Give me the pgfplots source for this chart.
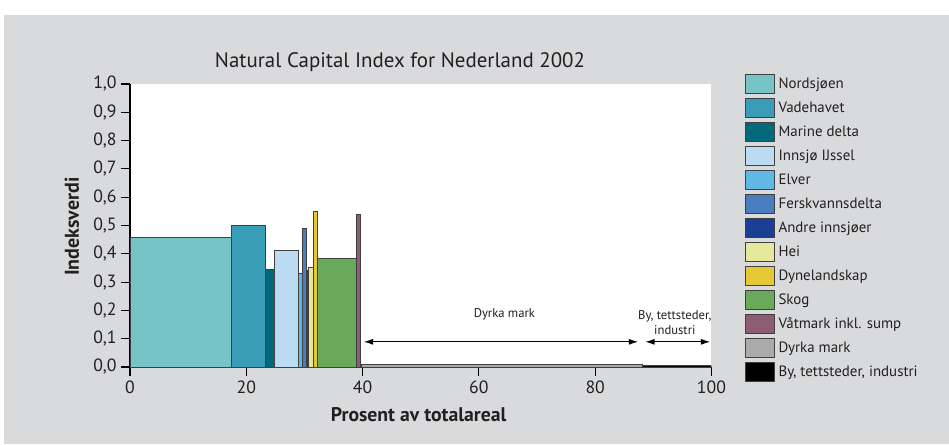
\documentclass[border=0pt]{standalone}
\usepackage{fontspec}
\setmainfont{PT Sans}
\usepackage{pgfplots}
\pgfplotsset{compat=1.18}
\usetikzlibrary{arrows.meta}

\definecolor{bggray}{RGB}{217,218,220}
\definecolor{txt}{RGB}{35,31,32}
\definecolor{cNord}{RGB}{118,196,197}
\definecolor{cVade}{RGB}{58,157,184}
\definecolor{cMarine}{RGB}{0,105,122}
\definecolor{cIjssel}{RGB}{186,219,242}
\definecolor{cElver}{RGB}{98,184,229}
\definecolor{cFersk}{RGB}{74,125,192}
\definecolor{cAndre}{RGB}{28,63,150}
\definecolor{cHei}{RGB}{229,232,154}
\definecolor{cDyne}{RGB}{230,200,54}
\definecolor{cSkog}{RGB}{106,168,90}
\definecolor{cVaat}{RGB}{141,92,117}
\definecolor{cDyrka}{RGB}{170,170,170}
\definecolor{cBy}{RGB}{0,0,0}

\begin{document}
\begin{tikzpicture}
% 1 px of the reference = 0.75pt; page 949x444 px
\fill[white] (0pt,0pt) rectangle (711.75pt,333pt);
\fill[bggray] (3pt,0pt) rectangle (711.75pt,321.75pt);

\begin{axis}[
  at={(97.5pt,57.75pt)}, anchor=south west,
  scale only axis,
  width=436.1pt, height=212.25pt,
  xmin=0, xmax=100, ymin=0, ymax=1,
  axis lines*=left,
  axis line style={-, black, line width=0.8pt},
  axis background/.style={fill=white},
  xtick={0,20,40,60,80,100},
  ytick={0,0.1,0.2,0.3,0.4,0.5,0.6,0.7,0.8,0.9,1.0},
  tick align=outside,
  major tick length=6.5pt,
  tick style={black, line width=0.8pt},
  ticklabel style={font=\fontsize{13.3}{15}\selectfont, text=txt},
  xticklabel style={/pgf/number format/assume math mode=true},
  yticklabel style={/pgf/number format/.cd, assume math mode=true, use comma, fixed, fixed zerofill, precision=1},
  every axis plot/.append style={draw=black!75, line width=0.5pt},
  legend style={at={(1.057,1.035)}, anchor=north west, draw=none, fill=none,
    inner sep=0pt, row sep=3.3pt,
    font=\fontsize{11.2}{13}\selectfont, text=txt,
    nodes={inner sep=0pt, text height=9pt, text depth=3pt},
    /tikz/every odd column/.append style={column sep=3pt}},
  legend cell align=left,
  legend image code/.code={\draw[#1] (0pt,-7.1pt) rectangle (21.75pt,7.1pt);},
]
\addplot[fill=cNord] coordinates {(0,0) (0,0.458) (17.42,0.458) (17.42,0)} -- cycle;
\addlegendentry{Nordsjøen}
\addplot[fill=cVade] coordinates {(17.42,0) (17.42,0.502) (23.27,0.502) (23.27,0)} -- cycle;
\addlegendentry{Vadehavet}
\addplot[fill=cMarine] coordinates {(23.27,0) (23.27,0.345) (24.82,0.345) (24.82,0)} -- cycle;
\addlegendentry{Marine delta}
\addplot[fill=cIjssel] coordinates {(24.82,0) (24.82,0.413) (29.0,0.413) (29.0,0)} -- cycle;
\addlegendentry{Innsjø IJssel}
\addplot[fill=cElver] coordinates {(29.0,0) (29.0,0.332) (29.7,0.332) (29.7,0)} -- cycle;
\addlegendentry{Elver}
\addplot[fill=cFersk] coordinates {(29.7,0) (29.7,0.49) (30.38,0.49) (30.38,0)} -- cycle;
\addlegendentry{Ferskvannsdelta}
\addplot[fill=cAndre] coordinates {(30.38,0) (30.38,0.34) (30.67,0.34) (30.67,0)} -- cycle;
\addlegendentry{Andre innsjøer}
\addplot[fill=cHei] coordinates {(30.67,0) (30.67,0.352) (31.53,0.352) (31.53,0)} -- cycle;
\addlegendentry{Hei}
\addplot[fill=cDyne] coordinates {(31.53,0) (31.53,0.55) (32.2,0.55) (32.2,0)} -- cycle;
\addlegendentry{Dynelandskap}
\addplot[fill=cSkog] coordinates {(32.2,0) (32.2,0.385) (38.9,0.385) (38.9,0)} -- cycle;
\addlegendentry{Skog}
\addplot[fill=cVaat] coordinates {(38.9,0) (38.9,0.54) (39.67,0.54) (39.67,0)} -- cycle;
\addlegendentry{Våtmark inkl. sump}
\addplot[fill=cDyrka] coordinates {(39.84,0) (39.84,0.008) (88.1,0.008) (88.1,0)} -- cycle;
\addlegendentry{Dyrka mark}
\addplot[fill=cBy] coordinates {(88.1,0) (88.1,0.005) (100,0.005) (100,0)} -- cycle;
\addlegendentry{By, tettsteder, industri}

\draw[{Latex[length=7pt,width=4.5pt]}-{Latex[length=7pt,width=4.5pt]}, line width=0.8pt]
  (axis cs:40.2,0.089) -- (axis cs:87.4,0.089);
\draw[{Latex[length=7pt,width=4.5pt]}-{Latex[length=7pt,width=4.5pt]}, line width=0.8pt]
  (axis cs:88.6,0.089) -- (axis cs:99.8,0.089);
\node[font=\fontsize{9.5}{11}\selectfont, text=txt] at (axis cs:64.4,0.187) {Dyrka mark};
\node[align=center, font=\fontsize{9.5}{11}\selectfont, text=txt] at (axis cs:93.7,0.157) {By, tettsteder,\\industri};
\end{axis}

\node[text=txt] at (300pt,286.5pt) {\fontsize{15.7}{18}\selectfont Natural Capital Index for Nederland 2002};
\node[rotate=90, text=txt] at (54pt,163pt) {\fontsize{15}{18}\selectfont\bfseries Indeksverdi};
\node[text=txt] at (314pt,22pt) {\fontsize{14.8}{18}\selectfont\bfseries Prosent av totalareal};
\end{tikzpicture}
\end{document}
